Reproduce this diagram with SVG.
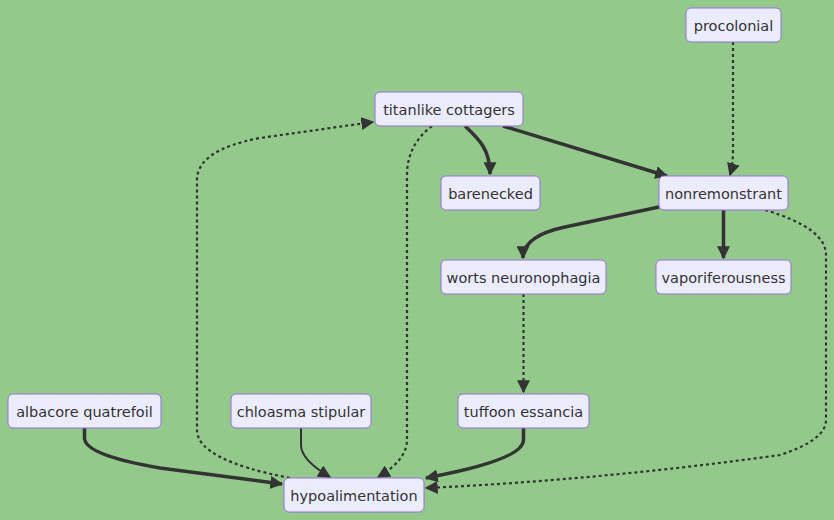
<svg xmlns="http://www.w3.org/2000/svg" width="834" height="520" viewBox="0 0 834 520">
<style>
.node rect{fill:#ececff;stroke:#9370db;stroke-width:1;}
.node text{font-family:"DejaVu Sans",sans-serif;font-size:14.5px;fill:#333;text-anchor:middle;dominant-baseline:central;}
.e{fill:none;stroke:#333;}
.thick{stroke-width:3.5;}
.norm{stroke-width:2;}
.dot{stroke-width:2.2;stroke-dasharray:3 3;}
</style>
<defs>
<marker id="ah" viewBox="0 0 10 10" refX="9" refY="5" markerWidth="13" markerHeight="13" markerUnits="userSpaceOnUse" orient="auto">
<path d="M0,0 L10,5 L0,10 z" fill="#333"/>
</marker>
</defs>
<rect width="834" height="520" fill="#93c98b"/>
<g id="edges">
<path class="e thick" d="M465,126 C480,140 490,150 490,174" marker-end="url(#ah)"/>
<path class="e thick" d="M503,126 L667,176" marker-end="url(#ah)"/>
<path class="e dot" d="M733,42 L733,150 Q733,165 730,175" marker-end="url(#ah)"/>
<path class="e thick" d="M659,207 L565,227 Q523,236 523,258" marker-end="url(#ah)"/>
<path class="e thick" d="M723.5,210 L723.5,258" marker-end="url(#ah)"/>
<path class="e dot" d="M765,210 Q826,228 826,255 L826,420 Q826,440 780,455 Q600,480 426,488" marker-end="url(#ah)"/>
<path class="e dot" d="M523.5,294 L523.5,392" marker-end="url(#ah)"/>
<path class="e dot" d="M432,126 Q407,145 407,175 L407,440 Q407,460 378,477" marker-end="url(#ah)"/>
<path class="e dot" d="M290,478 Q197,460 197,430 L197,180 Q197,150 260,138 L373,122" marker-end="url(#ah)"/>
<path class="e thick" d="M84.5,428 L84.5,438 Q84.5,455 160,468 L282,484" marker-end="url(#ah)"/>
<path class="e norm" d="M301,428 L301,445 Q301,460 330,477" marker-end="url(#ah)"/>
<path class="e thick" d="M523.5,428 L523.5,440 Q523.5,460 426,478" marker-end="url(#ah)"/>
</g>
<g id="procolonial" class="node"><rect x="686" y="8" width="95" height="34" rx="5"/><text x="733.5" y="25.5">procolonial</text></g>
<g id="titanlike" class="node"><rect x="375" y="92" width="148" height="34" rx="5"/><text x="449" y="109.5">titanlike cottagers</text></g>
<g id="barenecked" class="node"><rect x="441" y="176" width="99" height="34" rx="5"/><text x="490.5" y="193.5">barenecked</text></g>
<g id="nonremonstrant" class="node"><rect x="659" y="176" width="129" height="34" rx="5"/><text x="723.5" y="193.5">nonremonstrant</text></g>
<g id="worts" class="node"><rect x="441" y="260" width="165" height="34" rx="5"/><text x="523.5" y="277.5">worts neuronophagia</text></g>
<g id="vaporiferousness" class="node"><rect x="656" y="260" width="135" height="34" rx="5"/><text x="723.5" y="277.5">vaporiferousness</text></g>
<g id="albacore" class="node"><rect x="8" y="394" width="153" height="34" rx="5"/><text x="84.5" y="411.5">albacore quatrefoil</text></g>
<g id="chloasma" class="node"><rect x="231" y="394" width="140" height="34" rx="5"/><text x="301" y="411.5">chloasma stipular</text></g>
<g id="tuffoon" class="node"><rect x="458" y="394" width="131" height="34" rx="5"/><text x="523.5" y="411.5">tuffoon essancia</text></g>
<g id="hypoalimentation" class="node"><rect x="284" y="478" width="140" height="34" rx="5"/><text x="354" y="495.5">hypoalimentation</text></g>
</svg>
